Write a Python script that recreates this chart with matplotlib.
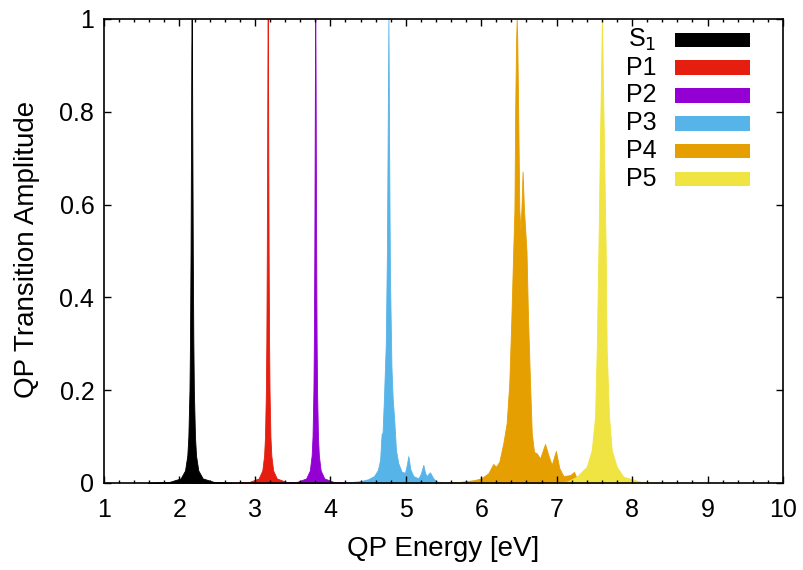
import matplotlib
matplotlib.use('Agg')
import matplotlib.pyplot as plt
from matplotlib.patches import Rectangle

plt.rcParams['font.family'] = ['Liberation Sans', 'DejaVu Sans']

# spectra: QP energy (eV) and transition amplitude for each state
s1_x = [1.58, 1.87, 2.016, 2.074, 2.104, 2.118, 2.133, 2.140, 2.1475, 2.1547, 2.158, 2.162,
        2.166, 2.1693, 2.1767, 2.184, 2.191, 2.206, 2.220, 2.250, 2.308, 2.452, 2.742]
s1_y = [0.0006, 0.0025, 0.0099, 0.027, 0.059, 0.1, 0.2, 0.308, 0.5, 0.8, 0.941, 1.0,
        0.941, 0.8, 0.5, 0.308, 0.2, 0.1, 0.059, 0.027, 0.0099, 0.0025, 0.0006]

p1_x = [2.69, 2.93, 3.05, 3.098, 3.122, 3.134, 3.146, 3.152, 3.158, 3.164, 3.167, 3.17,
        3.173, 3.176, 3.182, 3.188, 3.194, 3.206, 3.218, 3.242, 3.29, 3.41, 3.65]
p1_y = [0.0006, 0.0025, 0.0099, 0.027, 0.059, 0.1, 0.2, 0.308, 0.5, 0.8, 0.941, 1.0,
        0.941, 0.8, 0.5, 0.308, 0.2, 0.1, 0.059, 0.027, 0.0099, 0.0025, 0.0006]

p2_x = [3.32, 3.56, 3.68, 3.728, 3.752, 3.764, 3.776, 3.782, 3.788, 3.794, 3.797, 3.80,
        3.803, 3.806, 3.812, 3.818, 3.824, 3.836, 3.848, 3.872, 3.92, 4.04, 4.28]
p2_y = [0.0006, 0.0025, 0.0099, 0.027, 0.059, 0.1, 0.2, 0.308, 0.5, 0.8, 0.941, 1.0,
        0.941, 0.8, 0.5, 0.308, 0.2, 0.1, 0.059, 0.027, 0.0099, 0.0025, 0.0006]

p3_x = [4.20, 4.40, 4.50, 4.58, 4.63, 4.66, 4.675, 4.681, 4.69, 4.71, 4.735, 4.75, 4.76, 4.77,
        4.778, 4.79, 4.81, 4.827, 4.844, 4.857, 4.87, 4.90, 4.946, 4.99, 5.015, 5.034, 5.06,
        5.10, 5.166, 5.20, 5.233, 5.255, 5.277, 5.32, 5.365, 5.41, 5.6, 6.0]
p3_y = [0.001, 0.004, 0.008, 0.015, 0.028, 0.050, 0.095, 0.107, 0.10, 0.18, 0.30, 0.50, 0.75, 1.0,
        0.75, 0.45, 0.25, 0.18, 0.143, 0.108, 0.071, 0.043, 0.024, 0.022, 0.04, 0.058, 0.03,
        0.015, 0.010, 0.02, 0.039, 0.022, 0.015, 0.023, 0.010, 0.003, 0.001, 0.0]

p4_x = [5.40, 5.70, 5.90, 6.00, 6.094, 6.16, 6.196, 6.24, 6.293, 6.337, 6.372, 6.40, 6.424,
        6.44, 6.45, 6.462, 6.47, 6.478, 6.49, 6.505, 6.52, 6.535, 6.548, 6.567, 6.60, 6.62,
        6.647, 6.67, 6.70, 6.735, 6.78, 6.846, 6.89, 6.934, 6.99, 7.035, 7.09, 7.18, 7.23,
        7.266, 7.40, 7.70, 8.00]
p4_y = [0.0, 0.002, 0.006, 0.010, 0.021, 0.041, 0.035, 0.046, 0.086, 0.129, 0.215, 0.358, 0.50,
        0.588, 0.80, 0.95, 1.0, 0.95, 0.80, 0.588, 0.545, 0.60, 0.671, 0.588, 0.50, 0.358,
        0.215, 0.107, 0.067, 0.064, 0.053, 0.084, 0.06, 0.039, 0.069, 0.032, 0.015, 0.017, 0.024,
        0.010, 0.004, 0.001, 0.0]

p5_x = [6.80, 7.00, 7.133, 7.266, 7.398, 7.465, 7.509, 7.531, 7.553, 7.575, 7.60, 7.625,
        7.650, 7.663, 7.694, 7.730, 7.796, 7.884, 8.105, 8.30, 8.60]
p5_y = [0.0, 0.001, 0.003, 0.0136, 0.035, 0.071, 0.143, 0.287, 0.50, 0.75, 1.0, 0.75,
        0.50, 0.287, 0.143, 0.071, 0.035, 0.0136, 0.003, 0.001, 0.0]

labels = ['S$_1$', 'P1', 'P2', 'P3', 'P4', 'P5']
colors = ['#000000', '#e51e10', '#9400d3', '#56b4e9', '#e69f00', '#f0e442']

series = [(s1_x, s1_y), (p1_x, p1_y), (p2_x, p2_y), (p3_x, p3_y), (p4_x, p4_y), (p5_x, p5_y)]

fs = 18

fig = plt.figure(figsize=(8.04, 5.70), dpi=100)
ax = fig.add_axes([104 / 804, 1 - 483 / 570, 679 / 804, 464 / 570])

for (x, y), c in zip(series, colors):
    ax.fill_between(x, y, 0, color=c, linewidth=0.6, edgecolor=c)

ax.set_xlim(1, 10)
ax.set_ylim(0, 1)
ax.set_xticks(range(1, 11))
ax.set_xticks([1 + 0.2 * i for i in range(46)], minor=True)
ax.set_yticks([0, 0.2, 0.4, 0.6, 0.8, 1])
ax.set_yticklabels(['0', '0.2', '0.4', '0.6', '0.8', '1'])
ax.tick_params(direction='in', which='both', top=True, right=True, labelsize=fs)
ax.tick_params(axis='x', pad=11)
ax.tick_params(axis='y', pad=7)
ax.tick_params(which='major', length=5, width=1)
ax.tick_params(which='minor', length=2.5, width=1)
for sp in ax.spines.values():
    sp.set_linewidth(1.2)

fig.text(443 / 804, 1 - 549 / 570, 'QP Energy [eV]', ha='center', va='center', fontsize=20)
fig.text(27 / 804, 1 - 249 / 570, 'QP Transition Amplitude', ha='center', va='center',
         rotation=90, fontsize=20)

# key: label on the left, colour box on the right
for i, (lab, c) in enumerate(zip(labels, colors)):
    yc = 0.955 - 0.0599 * i
    ax.add_patch(Rectangle((0.841, yc - 0.0158), 0.110, 0.0315, transform=ax.transAxes,
                           facecolor=c, edgecolor='none', zorder=5))
    ax.text(0.814, yc, lab, transform=ax.transAxes, ha='right', va='center', fontsize=fs, zorder=5)

fig.savefig('out.png', dpi=100)
